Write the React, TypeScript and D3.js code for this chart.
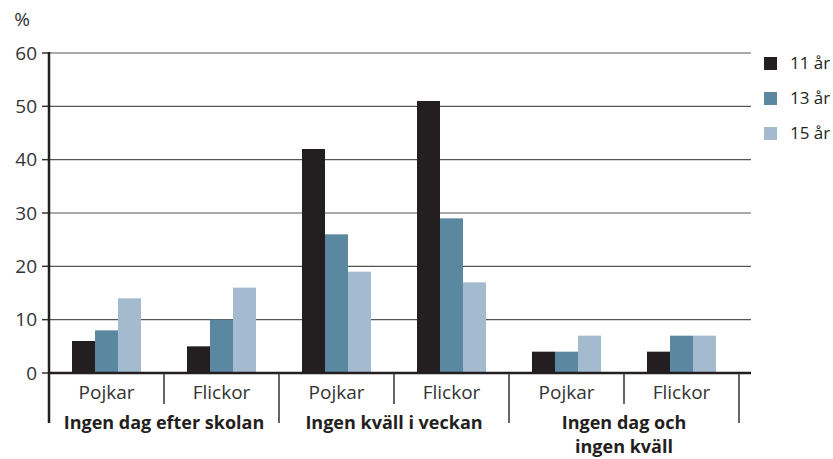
import React from "react";
import * as d3 from "d3";

const groups = ["Ingen dag efter skolan", "Ingen kväll i veckan", "Ingen dag och\ningen kväll"];
const subgroups = ["Pojkar", "Flickor"];
const series = ["11 år", "13 år", "15 år"];
const colors = ["#231f20", "#5b88a1", "#a4bbcf"];
const v11 = [6, 5, 42, 51, 4, 4];
const v13 = [8, 10, 26, 29, 4, 7];
const v15 = [14, 16, 19, 17, 7, 7];
const yTicks = [0, 10, 20, 30, 40, 50, 60];

const W = 833, H = 459;
const left = 49, right = 739, gridRight = 751, top = 53, bottom = 373;
const font = "'Open Sans', sans-serif";

export default function App() {
  const cells = groups.flatMap((g, gi) => subgroups.map((s) => `${gi}-${s}`));
  const x0 = d3.scaleBand().domain(cells).range([left, right]);
  const bw = x0.bandwidth();
  const x1 = d3.scaleBand().domain(series).range([bw / 5, (bw * 4) / 5]);
  const y = d3.scaleLinear().domain([0, 60]).range([bottom, top]);
  const vals = [v11, v13, v15];
  const gx = d3.scaleBand().domain(groups).range([left, right]);

  return (
    <svg width={W} height={H} style={{ position: "absolute", left: 0, top: 0 }}>
      <rect width={W} height={H} fill="#fff" />
      {yTicks.map((t) => (
        <g key={t}>
          {t > 0 && <line x1={left} x2={gridRight} y1={y(t)} y2={y(t)} stroke="#555" strokeWidth={1.2} />}
          <line x1={42} x2={left} y1={y(t)} y2={y(t)} stroke="#333" strokeWidth={1.5} />
          <text x={37} y={y(t)} dy="0.35em" textAnchor="end" fontFamily={font} fontSize={19} fill="#333">{t}</text>
        </g>
      ))}
      <text x={22} y={26} textAnchor="middle" fontFamily={font} fontSize={19} fill="#333">%</text>
      {cells.map((c, ci) =>
        series.map((s, si) => (
          <rect key={c + s} x={(x0(c) as number) + (x1(s) as number)} width={x1.bandwidth()}
            y={y(vals[si][ci])} height={bottom - y(vals[si][ci])} fill={colors[si]} />
        ))
      )}
      <line x1={left} x2={gridRight} y1={bottom} y2={bottom} stroke="#231f20" strokeWidth={2.5} />
      <line x1={left} x2={left} y1={top - 1} y2={423} stroke="#231f20" strokeWidth={2.5} />
      {cells.map((c, ci) => {
        const xr = (x0(c) as number) + bw;
        const isGroupEnd = ci % 2 === 1;
        return (
          <g key={c}>
            <line x1={xr} x2={xr} y1={bottom} y2={isGroupEnd ? 423 : 404} stroke="#333" strokeWidth={1.5} />
            <text x={(x0(c) as number) + bw / 2} y={399} textAnchor="middle" fontFamily={font} fontSize={19} fill="#333">{subgroups[ci % 2]}</text>
          </g>
        );
      })}
      {groups.map((g) => (
        <text key={g} x={(gx(g) as number) + gx.bandwidth() / 2} y={429} textAnchor="middle" fontFamily={font} fontSize={18} fontWeight="bold" fill="#231f20">
          {g.split("\n").map((line, li) => (
            <tspan key={li} x={(gx(g) as number) + gx.bandwidth() / 2} dy={li === 0 ? 0 : 24}>{line}</tspan>
          ))}
        </text>
      ))}
      {series.map((s, si) => (
        <g key={s} transform={`translate(764, ${57 + si * 35})`}>
          <rect width={13} height={13} fill={colors[si]} />
          <text x={26} y={6} dy="0.35em" fontFamily={font} fontSize={17} fill="#231f20">{s}</text>
        </g>
      ))}
    </svg>
  );
}
